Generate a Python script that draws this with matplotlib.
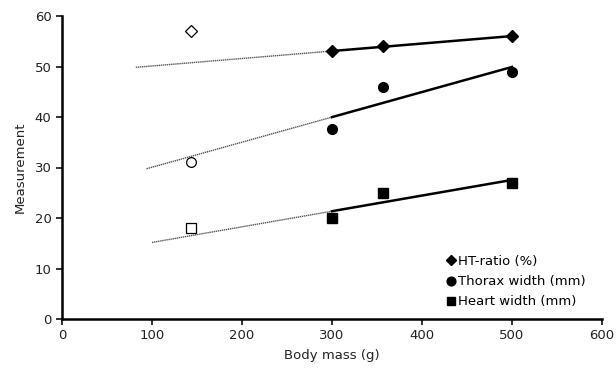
import numpy as np
import matplotlib
matplotlib.use('Agg')
import matplotlib.pyplot as plt

# Body mass (g) for filled points and the open (excluded) point
mass = [300, 357, 500]
mass_open = 143

ht_ratio = [53, 54, 56]
thorax = [37.7, 46, 49]
heart = [20, 25, 27]

ht_open = 57
thorax_open = 31
heart_open = 18

# where the dotted extrapolation of each trend starts
trend_start = [82, 94, 100]

plt.rcParams['font.family'] = ['DejaVu Sans']
plt.rcParams['font.size'] = 9.5

fig = plt.figure(figsize=(6.16, 3.72), dpi=100)
ax = fig.add_axes([62 / 616, 53 / 372, 540 / 616, 303 / 372])

series = [
    (ht_ratio, ht_open, 'D', 6, 'HT-ratio (%)'),
    (thorax, thorax_open, 'o', 7, 'Thorax width (mm)'),
    (heart, heart_open, 's', 6.5, 'Heart width (mm)'),
]

for (vals, open_val, mk, ms, label), x0 in zip(series, trend_start):
    slope, icpt = np.polyfit(mass, vals, 1)
    xd = np.array([x0, mass[0]])
    ax.plot(xd, slope * xd + icpt, color='#555555', lw=1.0, ls=(0, (1, 0.5)), zorder=1)
    xs = np.array([mass[0], mass[-1]])
    ax.plot(xs, slope * xs + icpt, color='black', lw=1.8, zorder=2)
    ax.plot(mass, vals, ls='none', marker=mk, ms=ms, color='black', label=label, zorder=3)
    ax.plot([mass_open], [open_val], ls='none', marker=mk, ms=ms, mfc='white',
            mec='black', mew=0.9, zorder=3)

ax.set_xlim(0, 600)
ax.set_ylim(0, 60)
ax.set_xticks(range(0, 601, 100))
ax.set_yticks(range(0, 61, 10))
ax.set_xlabel('Body mass (g)', color='#222222', labelpad=5)
ax.set_ylabel('Measurement', color='#222222', labelpad=6)

for s in ['top', 'right']:
    ax.spines[s].set_visible(False)
for s in ['left', 'bottom']:
    ax.spines[s].set_linewidth(1.8)
ax.tick_params(direction='out', length=4, width=1.3, colors='#222222', labelsize=9.5)

ax.legend(loc='lower right', frameon=False, handlelength=0.7, handletextpad=0.25,
          labelspacing=0.55, markerscale=0.9, fontsize=9.5,
          bbox_to_anchor=(0.99, 0.0), borderaxespad=0.4)

fig.savefig('out.png', dpi=100)
